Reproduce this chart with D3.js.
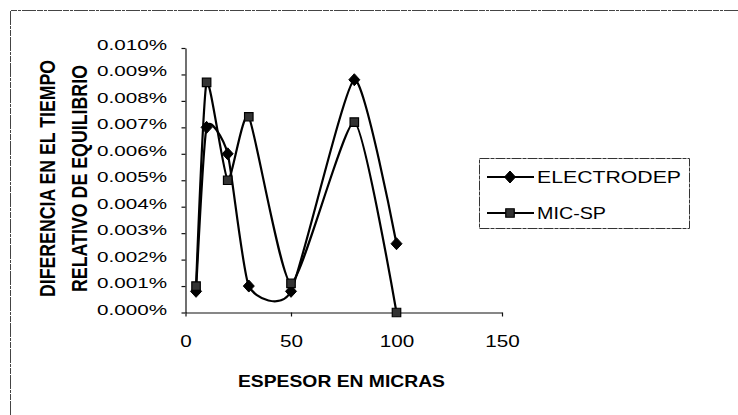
<!DOCTYPE html>
<html>
<head>
<meta charset="utf-8">
<script src="https://cdn.jsdelivr.net/npm/d3@7"></script>
<style>
  body { margin: 0; background: #fff; }
  svg { display: block; }
  text { font-family: "Liberation Sans", Arial, sans-serif; fill: #000; }
</style>
</head>
<body>
<svg id="chart" width="738" height="415"></svg>
<script>
// Thickness (microns) and relative equilibrium-time difference (%) per coating
const thickness  = [5, 10, 20, 30, 50, 80, 100];
const electrodep = [0.0008, 0.0070, 0.0060, 0.0010, 0.0008, 0.0088, 0.0026];
const micSp      = [0.0010, 0.0087, 0.0050, 0.0074, 0.0011, 0.0072, 0.0000];
const seriesNames = ["ELECTRODEP", "MIC-SP"];
const yTicks = [0, 0.001, 0.002, 0.003, 0.004, 0.005, 0.006, 0.007, 0.008, 0.009, 0.010];
const xTicks = [0, 50, 100, 150];
const xTitle = "ESPESOR EN MICRAS";
const yTitle = ["DIFERENCIA EN EL TIEMPO", "RELATIVO DE EQUILIBRIO"];

const svg = d3.select("#chart");
const x = d3.scaleLinear().domain([0, 150]).range([185.5, 502]);
const y = d3.scaleLinear().domain([0, 0.010]).range([312.5, 48]);

// stretch a text element horizontally to a given width
function fit(sel, w) {
  sel.attr("textLength", w).attr("lengthAdjust", "spacingAndGlyphs");
}

// frame around the chart area
svg.append("path")
  .attr("d", "M10.5,415V10.5H738")
  .attr("fill", "none").attr("stroke", "#444").attr("stroke-width", 1)
  .attr("stroke-dasharray", "14,1,6,1,3,1");

// axes
const yAxis = svg.append("g").attr("transform", `translate(${x(0)},0)`)
  .call(d3.axisLeft(y).tickValues(yTicks).tickSize(4).tickSizeOuter(0)
    .tickFormat(d => d.toFixed(3) + "%"));
yAxis.selectAll("text")
  .attr("x", -18.5).attr("dy", null).attr("y", 1.5)
  .attr("dominant-baseline", null)
  .style("font-size", "15px").attr("fill", "#000")
  .each(function () { fit(d3.select(this), 70); });

const xAxis = svg.append("g").attr("transform", `translate(0,${y(0)})`)
  .call(d3.axisBottom(x).tickValues(xTicks).tickSize(4).tickSizeOuter(0));
xAxis.selectAll("text")
  .attr("y", 34.5).attr("dy", null)
  .style("font-size", "16px").attr("fill", "#000")
  .each(function (d) { fit(d3.select(this), String(d).length * 11.5); });

svg.selectAll(".domain, .tick line").attr("stroke", "#111").attr("stroke-width", 1.2);

// axis titles
svg.append("text").attr("x", 341.5).attr("y", 387).attr("text-anchor", "middle")
  .style("font-size", "16.5px").style("font-weight", "bold").text(xTitle)
  .call(fit, 207);

const titleX = [55, 87];
const titleLen = [237, 227];
yTitle.forEach((t, i) => {
  svg.append("text")
    .attr("transform", `translate(${titleX[i]},178.5) rotate(-90) scale(1,1.3)`)
    .attr("text-anchor", "middle")
    .style("font-size", "17.6px").style("font-weight", "bold").text(t)
    .call(fit, titleLen[i]);
});

// series
const series = [
  { name: seriesNames[0], values: electrodep, marker: "diamond" },
  { name: seriesNames[1], values: micSp, marker: "square" }
];

// smoothed line through the points
const line = d3.line()
  .x(d => x(d[0])).y(d => y(d[1]))
  .curve(d3.curveCardinal.tension(0.45));

const diamondPath = "M0,-6L5.5,0L0,6L-5.5,0Z";
const squarePath = d3.symbol(d3.symbolSquare, 72)();

function drawMarker(g, kind, cx, cy) {
  if (kind === "diamond") {
    g.append("path").attr("d", diamondPath)
      .attr("transform", `translate(${cx},${cy})`)
      .attr("fill", "#000").attr("stroke", "#000").attr("stroke-width", 1);
  } else {
    g.append("path").attr("d", squarePath)
      .attr("transform", `translate(${cx},${cy})`)
      .attr("fill", "#333").attr("stroke", "#000").attr("stroke-width", 1.2);
  }
}

series.forEach(s => {
  const pts = thickness.map((t, i) => [t, s.values[i]]);
  svg.append("path").datum(pts).attr("d", line)
    .attr("fill", "none").attr("stroke", "#000").attr("stroke-width", 2.2);
  const g = svg.append("g");
  pts.forEach(p => drawMarker(g, s.marker, x(p[0]), y(p[1])));
});

// legend
const lg = svg.append("g");
lg.append("rect").attr("x", 479.5).attr("y", 158.5).attr("width", 210).attr("height", 70)
  .attr("fill", "#fff").attr("stroke", "#333").attr("stroke-width", 1)
  .attr("stroke-dasharray", "10,1,4,1");
const legendY = [177, 213];
const legendW = [144, 69];
series.forEach((s, i) => {
  const ly = legendY[i];
  lg.append("line").attr("x1", 487).attr("x2", 534).attr("y1", ly).attr("y2", ly)
    .attr("stroke", "#000").attr("stroke-width", 2);
  drawMarker(lg, s.marker, 510, ly);
  lg.append("text").attr("x", 537).attr("y", ly + 6)
    .style("font-size", "16.5px").text(s.name)
    .call(fit, legendW[i]);
});
</script>
</body>
</html>
